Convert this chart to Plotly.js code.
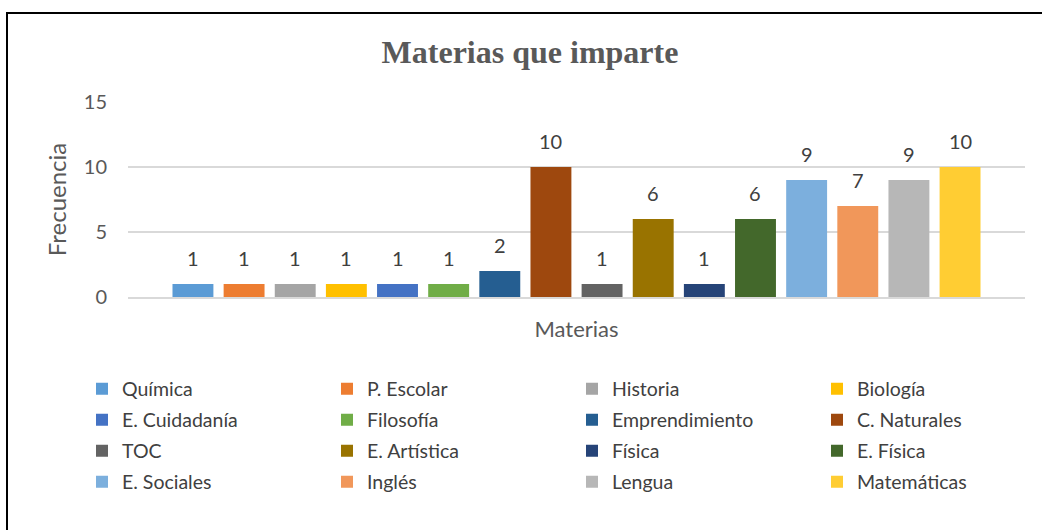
<!DOCTYPE html>
<html>
<head>
<meta charset="utf-8">
<script src="https://cdn.plot.ly/plotly-3.0.1.min.js"></script>
<style>html,body{margin:0;padding:0;background:#fff;}#chart{width:1042px;height:530px;}</style>
</head>
<body>
<div id="chart"></div>
<script>
const categories = ["Química","P. Escolar","Historia","Biología","E. Cuidadanía","Filosofía","Emprendimiento","C. Naturales","TOC","E. Artística","Física","E. Física","E. Sociales","Inglés","Lengua","Matemáticas"];
const values = [1,1,1,1,1,1,2,10,1,6,1,6,9,7,9,10];
const colors = ["#5B9BD5","#ED7D31","#A5A5A5","#FFC000","#4472C4","#70AD47","#255E91","#9E480E","#636363","#997300","#264478","#43682B","#7CAFDD","#F1975A","#B7B7B7","#FFCD33"];
const yTicks = [0,5,10,15];

const W = 1042, H = 530;
const PL = 128, PR = 1025, PT = 102, PB = 297;
const PW = PR - PL, PH = PB - PT;
const legendNames = ["legend","legend2","legend3","legend4"];
const rowY = [389,420,451,482];
const FONT = "Lato, 'Liberation Sans', Arial, sans-serif";

const traces = categories.map((c,i) => ({
  type: "bar",
  name: c,
  x: [c],
  y: [values[i]],
  marker: {color: colors[i]},
  legend: legendNames[Math.floor(i/4)],
  hoverinfo: "name+y"
}));

const annotations = categories.map((c,i) => ({
  x: c, y: values[i], xref: "x", yref: "y",
  text: String(values[i]), showarrow: false,
  yanchor: "bottom", yshift: 12,
  font: {family: FONT, size: 20, color: "#404040"}
}));

const layout = {
  width: W, height: H,
  paper_bgcolor: "#ffffff", plot_bgcolor: "#ffffff",
  margin: {l: PL, r: W - PR, t: PT, b: H - PB, autoexpand: false},
  font: {family: FONT, color: "#595959"},
  title: {
    text: "<b>Materias que imparte</b>",
    font: {family: "'Liberation Serif', 'Times New Roman', serif", size: 32, color: "#595959"},
    x: 530/W, xref: "container", xanchor: "center",
    y: 1 - 52/H, yref: "container", yanchor: "middle"
  },
  barmode: "overlay",
  bargap: 0.2,
  xaxis: {
    type: "category",
    categoryorder: "array", categoryarray: categories,
    range: [-1.27, categories.length - 1 + 1.27],
    showticklabels: false, ticks: "",
    showgrid: false, zeroline: false,
    showline: true, linecolor: "#d9d9d9", linewidth: 1.5,
    title: {text: "Materias", font: {family: FONT, size: 22, color: "#595959"}, standoff: 24},
    automargin: false,
    fixedrange: true
  },
  yaxis: {
    range: [0, 15],
    tickvals: yTicks, ticktext: yTicks.map(String),
    tickfont: {family: FONT, size: 20, color: "#595959"},
    ticks: "", ticklabelstandoff: 20,
    showgrid: true, gridcolor: "#d9d9d9", gridwidth: 1.5,
    zeroline: false, showline: false,
    title: {text: "Frecuencia", font: {family: FONT, size: 24, color: "#595959"}, standoff: 10},
    automargin: false,
    fixedrange: true
  },
  annotations: annotations,
  shapes: [{
    type: "rect", xref: "paper", yref: "paper",
    x0: (7 - PL)/PW, x1: (1046 - PL)/PW,
    y0: (PB - 534)/PH, y1: (PB - 13)/PH,
    line: {color: "#000000", width: 2}, fillcolor: "rgba(0,0,0,0)", layer: "above"
  }],
  showlegend: true
};

legendNames.forEach((ln, r) => {
  layout[ln] = {
    orientation: "h",
    xref: "paper", yref: "paper",
    x: (82 - PL)/PW, xanchor: "left",
    y: (PB - rowY[r])/PH, yanchor: "middle",
    entrywidth: 200, entrywidthmode: "pixels",
    itemwidth: 30,
    font: {family: FONT, size: 19.5, color: "#404040"},
    bgcolor: "rgba(0,0,0,0)", borderwidth: 0,
    itemclick: false, itemdoubleclick: false
  };
});

Plotly.newPlot("chart", traces, layout, {displayModeBar: false});
</script>
</body>
</html>
